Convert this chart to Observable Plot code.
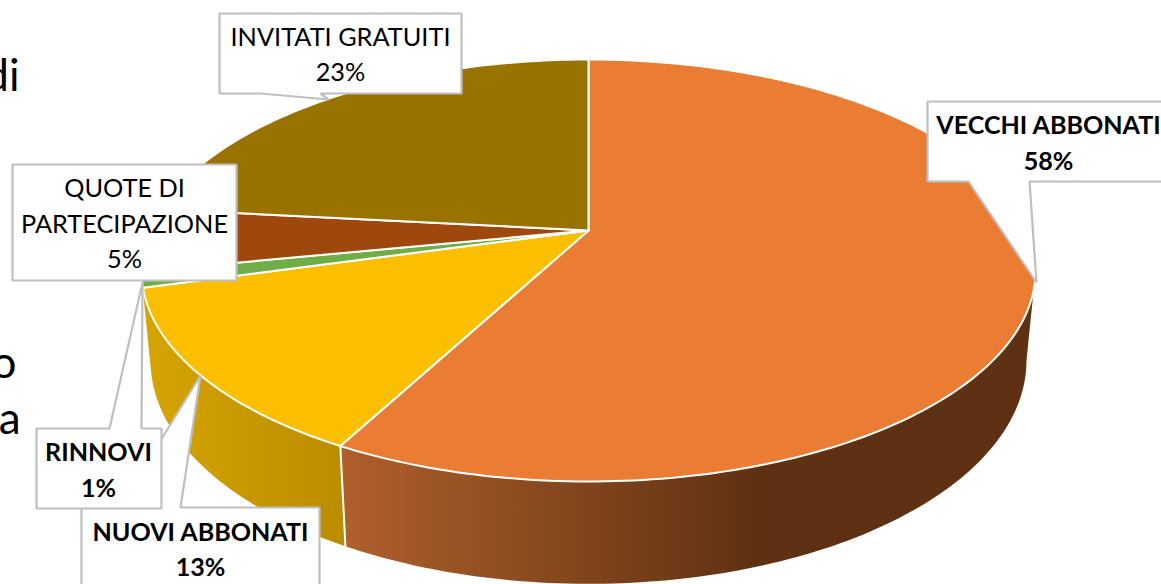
<!DOCTYPE html>
<html><head><meta charset="utf-8">
<script src="https://cdn.jsdelivr.net/npm/d3@7"></script>
<script src="https://cdn.jsdelivr.net/npm/@observablehq/plot@0.6"></script>
<style>html,body{margin:0;padding:0;background:#fff;overflow:hidden}svg{display:block}</style>
</head><body><div id="chart"></div>
<script>
// Data, clockwise from the top of the pie
const categories = ["VECCHI ABBONATI", "NUOVI ABBONATI", "RINNOVI", "QUOTE DI PARTECIPAZIONE", "INVITATI GRATUITI"];
const shares = [57.8, 12.9, 1.2, 4.8, 23.3];
const faceColors = ["#EB7C33", "#FBBF00", "#70AD47", "#9E480E", "#997300"];
const boldLabels = ["VECCHI ABBONATI", "NUOVI ABBONATI", "RINNOVI"];

// Perspective model of the disc (top face and bottom face)
const top_ = {cx: 588, cy: 230, m: 439, k: 203.4, b: 0.1896};
const bot_ = {cx: 588, cy: 318, m: 430, k: 215, b: 0.1896};
const rad = d => d * Math.PI / 180;
const project = (p, deg) => {
  const X = Math.sin(rad(deg)), Z = Math.cos(rad(deg)), w = 1 + p.b * Z;
  return {x: p.cx + p.m * X / w, y: p.cy - p.k * Z / w};
};
const arc = (p, a, b) => {
  const n = Math.max(2, Math.ceil(Math.abs(b - a)));
  return d3.range(n + 1).map(i => project(p, a + (b - a) * i / n));
};
let acc = 0;
const slices = categories.map((cat, i) => {
  const a = acc * 3.6; acc += shares[i]; const b = acc * 3.6;
  return {cat, a, b};
});
const faceRows = slices.flatMap(s => {
  const pts = [{x: top_.cx, y: top_.cy}, ...arc(top_, s.a, s.b), {x: top_.cx, y: top_.cy}];
  return pts.map(p => ({...p, cat: s.cat}));
});
const wall = (a, b) => {
  const up = arc(top_, a, b), lo = arc(bot_, b, a);
  return [...up, ...lo, up[0]];
};
const orange = slices[0], gold = slices[1];
const wallOrange = wall(101, orange.b);
const wallGold = wall(gold.a, gold.b + 2);

// Callouts: layout of the label boxes and their leader tails
const callouts = [
  {cat: "INVITATI GRATUITI", outline: [[219,13],[461,13],[461,93],[320,93],[328,99],[260,93],[219,93]], tx: 340, ty: 51.5},
  {cat: "VECCHI ABBONATI", outline: [[927,101],[1175,101],[1175,181],[1029,181],[1036,282],[968,181],[927,181]], tx: 1048, ty: 140},
  {cat: "NUOVI ABBONATI", outline: [[81,507],[119,507],[200,375],[180,507],[319,507],[319,600],[81,600]], tx: 200, ty: 546.5},
  {cat: "QUOTE DI PARTECIPAZIONE", outline: [[12,164],[236,164],[236,280],[12,280]], tx: 124, ty: 221},
  {cat: "RINNOVI", outline: [[36,428],[109,428],[142,282],[141,428],[161,428],[161,508],[36,508]], tx: 98, ty: 467}
];
const calloutRows = callouts.flatMap(c => [...c.outline, c.outline[0]].map(([x, y]) => ({x, y, cat: c.cat})));
const labelRows = callouts.map(c => {
  const pct = Math.round(shares[categories.indexOf(c.cat)]);
  const name = c.cat.replace("DI PART", "DI\nPART");
  return {x: c.tx, y: c.ty, text: `${name}\n${pct}%`, cat: c.cat};
});

// Cropped slide text behind the chart
const backgroundText = [
  {text: "di", x: 19, y: 90},
  {text: "o", x: 16, y: 377},
  {text: "a", x: 20, y: 433}
];

const gradients = () => {
  const defs = d3.create("svg:defs");
  const add = (id, x1, x2, stops) => {
    const g = defs.append("linearGradient").attr("id", id)
      .attr("gradientUnits", "userSpaceOnUse")
      .attr("x1", x1).attr("x2", x2).attr("y1", 0).attr("y2", 0);
    stops.forEach(([o, c]) => g.append("stop").attr("offset", o).attr("stop-color", c));
  };
  add("wallOrange", 340, 760, [[0, "#B0602B"], [1, "#5E3112"]]);
  add("wallGold", 145, 345, [[0, "#D6A400"], [1, "#BB8C00"]]);
  return defs.node();
};

const font = "Lato, 'Open Sans', sans-serif";
const chart = Plot.plot({
  width: 1161, height: 584,
  margin: 0,
  x: {domain: [0, 1161], range: [0, 1161], axis: null},
  y: {domain: [0, 584], range: [0, 584], axis: null},
  color: {domain: categories, range: faceColors},
  style: {background: "#fff"},
  marks: [
    gradients,
    Plot.text(backgroundText, {x: "x", y: "y", text: "text", textAnchor: "end", lineAnchor: "bottom", fontSize: 44, fontFamily: font, fill: "#000"}),
    Plot.line(wallOrange, {x: "x", y: "y", fill: "url(#wallOrange)", stroke: "none"}),
    Plot.line(wallGold, {x: "x", y: "y", fill: "url(#wallGold)", stroke: "none"}),
    Plot.line([project(top_, orange.b), project(bot_, orange.b)], {x: "x", y: "y", stroke: "#fff", strokeWidth: 2}),
    Plot.line(faceRows, {x: "x", y: "y", z: "cat", fill: "cat", stroke: "#fff", strokeWidth: 2, strokeLinejoin: "round"}),
    Plot.line(calloutRows, {x: "x", y: "y", z: "cat", fill: "#fff", stroke: "#BFBFBF", strokeWidth: 2.2, strokeLinejoin: "miter"}),
    Plot.text(labelRows.filter(d => !boldLabels.includes(d.cat)), {x: "x", y: "y", text: "text", fontSize: 25.3, lineHeight: 1.4, fontFamily: font, fill: "#000"}),
    Plot.text(labelRows.filter(d => boldLabels.includes(d.cat)), {x: "x", y: "y", text: "text", fontSize: 25.1, lineHeight: 1.43, fontFamily: font, fontWeight: "bold", fill: "#000"})
  ]
});
document.getElementById("chart").append(chart);
</script></body></html>
